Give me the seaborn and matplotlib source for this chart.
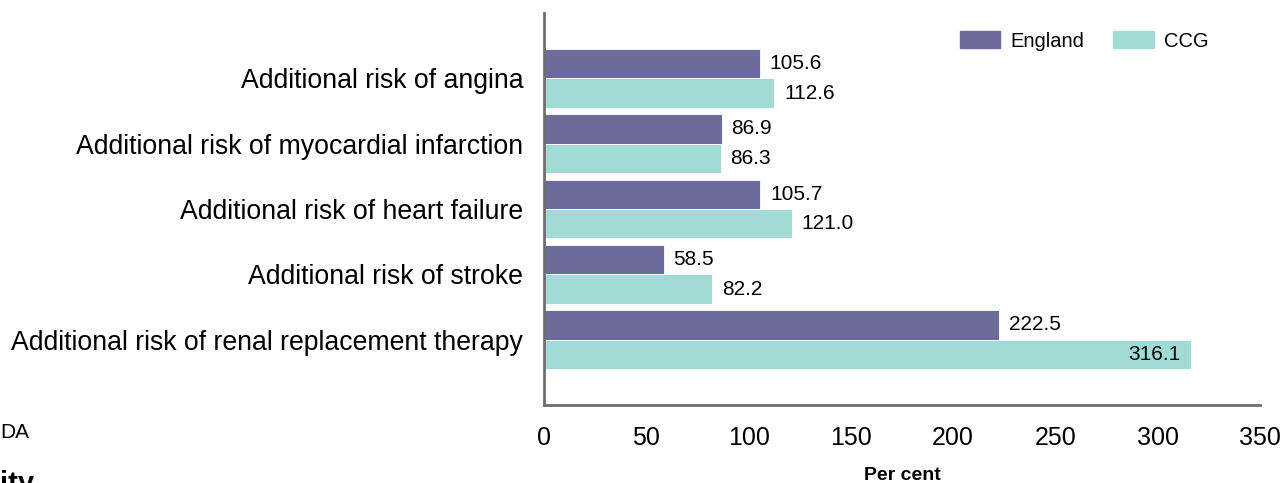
import pandas as pd
import numpy as np
import matplotlib
matplotlib.use("Agg")
import matplotlib.pyplot as plt
import seaborn as sns

# --- データ ---
categories = [
    "Additional risk of angina",
    "Additional risk of myocardial infarction",
    "Additional risk of heart failure",
    "Additional risk of stroke",
    "Additional risk of renal replacement therapy",
]
england_vals = [105.6, 86.9, 105.7, 58.5, 222.5]
ccg_vals = [112.6, 86.3, 121.0, 82.2, 316.1]
series_names = ["England", "CCG"]
x_ticks = [0, 50, 100, 150, 200, 250, 300, 350]

colors = {"England": "#6c6c9c", "CCG": "#a2dbd6"}

df = pd.DataFrame({
    "category": categories * 2,
    "value": england_vals + ccg_vals,
    "series": [series_names[0]] * len(categories) + [series_names[1]] * len(categories),
})

sns.set_style("white")
plt.rcParams["font.family"] = ["Liberation Sans", "DejaVu Sans"]
plt.rcParams["text.color"] = "black"
plt.rcParams["xtick.color"] = "black"
plt.rcParams["ytick.color"] = "black"
plt.rcParams["axes.labelcolor"] = "black"

W, H = 1285, 483
fig = plt.figure(figsize=(W / 100, H / 100), dpi=100)
ax = fig.add_axes([544 / W, 1 - 405 / H, (1260 - 544) / W, (405 - 13) / H])

sns.barplot(data=df, x="value", y="category", hue="series", orient="h",
            palette=colors, saturation=1, width=0.9, edgecolor="white", linewidth=0.6,
            ax=ax, legend=True)

ax.set_xlim(0, 350)
ax.set_ylim(len(categories), -1)
ax.set_xticks(x_ticks)
ax.set_xticklabels([str(t) for t in x_ticks], fontsize=18)
ax.tick_params(axis="x", length=0, pad=15)
ax.tick_params(axis="y", length=0, pad=15, labelsize=19.2)
ax.set_ylabel("")
ax.set_xlabel("Per cent", fontsize=14, fontweight="bold", labelpad=12)

for side in ["top", "right"]:
    ax.spines[side].set_visible(False)
for side in ["left", "bottom"]:
    ax.spines[side].set_color("#6e6e6e")
    ax.spines[side].set_linewidth(2)

# 値ラベル
for cont in ax.containers:
    for bar in cont:
        v = bar.get_width()
        yc = bar.get_y() + bar.get_height() / 2
        if v > 300:
            ax.annotate(f"{v:.1f}", (v, yc), xytext=(-7, 0), textcoords="offset points",
                        ha="right", va="center", fontsize=15)
        else:
            ax.annotate(f"{v:.1f}", (v, yc), xytext=(7, 0), textcoords="offset points",
                        ha="left", va="center", fontsize=15)

# 凡例
ax.get_legend().remove()
handles = [plt.Rectangle((0, 0), 1, 1, color=colors[s]) for s in series_names]
fig.legend(handles, series_names, loc="center left",
           bbox_to_anchor=(960 / W, 1 - 41 / H), bbox_transform=fig.transFigure,
           ncol=2, frameon=False, fontsize=14.5, borderpad=0, borderaxespad=0,
           handlelength=2.0, handleheight=0.85, handletextpad=0.5, columnspacing=1.45)

# 切れた周辺テキスト
fig.text(0 / W, 1 - 433 / H, "DA", fontsize=15, ha="left", va="center")
fig.text(0 / W, 1 - 470 / H, "ity", fontsize=21, fontweight="bold", ha="left", va="top")

fig.savefig("out.png", dpi=100)
